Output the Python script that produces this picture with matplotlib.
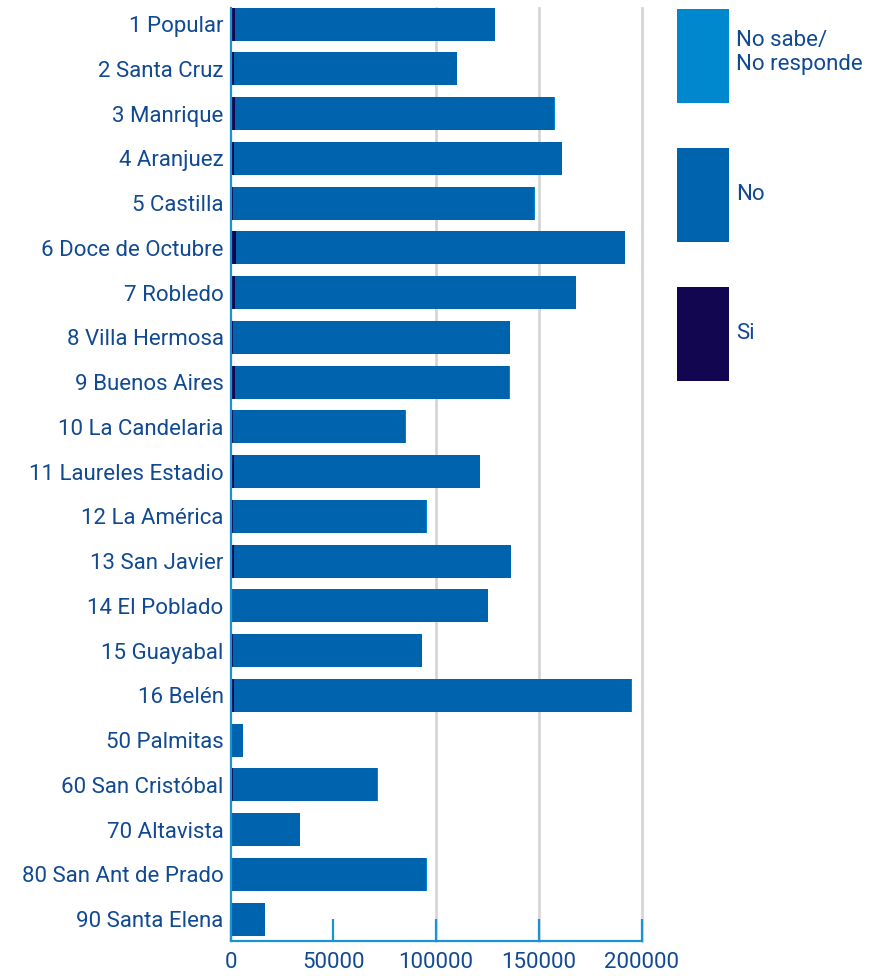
import matplotlib.pyplot as plt
import numpy as np

comunas = [
    "1 Popular", "2 Santa Cruz", "3 Manrique", "4 Aranjuez", "5 Castilla",
    "6 Doce de Octubre", "7 Robledo", "8 Villa Hermosa", "9 Buenos Aires",
    "10 La Candelaria", "11 Laureles Estadio", "12 La América",
    "13 San Javier", "14 El Poblado", "15 Guayabal", "16 Belén",
    "50 Palmitas", "60 San Cristóbal", "70 Altavista",
    "80 San Ant de Prado", "90 Santa Elena",
]
si = [2000, 1500, 2400, 1500, 1000, 2900, 2400, 1300, 2200, 1000, 1700,
      1000, 1500, 800, 1100, 1500, 300, 1100, 500, 800, 500]
no = [126900, 108500, 155000, 159700, 146800, 188900, 165600, 134700,
      133300, 84100, 119700, 94300, 134800, 124500, 92200, 193400, 5700,
      70400, 33200, 94500, 16200]
no_sabe = [0, 0, 500, 200, 500, 200, 200, 200, 500, 100, 200, 100, 400,
           200, 100, 500, 0, 100, 0, 100, 0]
x_ticks = [0, 50000, 100000, 150000, 200000]
grid_vals = [100000, 150000, 200000]

c_si = "#130651"
c_no = "#0063ae"
c_ns = "#0088cf"
c_text = "#114a92"
c_axis = "#1a93d4"
fs = 16

plt.rcParams["font.family"] = ["Roboto", "DejaVu Sans"]

fig = plt.figure(figsize=(8.81, 9.76), dpi=100)
ax = fig.add_axes([230.5 / 881, 35 / 976, 411 / 881, 933 / 976])

y = np.arange(len(comunas))
si = np.array(si)
no = np.array(no)
no_sabe = np.array(no_sabe)
h = 0.74

for g in grid_vals:
    ax.axvline(g, color="#d4d4d4", lw=1.9, zorder=0, clip_on=False)

b1 = ax.barh(y, si, height=h, color=c_si, label="Si", zorder=2)
b2 = ax.barh(y, no, left=si, height=h, color=c_no, label="No", zorder=2)
b3 = ax.barh(y, no_sabe, left=si + no, height=h, color=c_ns,
             label="No sabe/\nNo responde", zorder=2)

ax.set_ylim(len(comunas) - 1 + 0.49, -0.36)
ax.set_xlim(0, 200000)
ax.set_yticks(y)
ax.set_yticklabels(comunas)
ax.set_xticks(x_ticks)
ax.set_xticklabels([str(v) for v in x_ticks])

ax.tick_params(axis="y", length=0, pad=5, labelsize=fs, labelcolor=c_text)
ax.tick_params(axis="x", direction="in", length=16, width=1.6, color=c_axis,
               pad=8, labelsize=fs, labelcolor=c_text)

for s in ["top", "right"]:
    ax.spines[s].set_visible(False)
for s in ["left", "bottom"]:
    ax.spines[s].set_color(c_axis)
    ax.spines[s].set_linewidth(1.6)

# legend boxes ~52x94 px
fs_px = fs * 100 / 72
hh = (94 / fs_px - 0.245) / 0.65
leg = fig.legend(
    [b3, b2, b1], ["No sabe/\nNo responde", "No", "Si"],
    loc="upper left", bbox_to_anchor=(677 / 881, 1 - 9 / 976),
    frameon=False, fontsize=fs, handlelength=52 / fs_px, handleheight=hh,
    handletextpad=7 / fs_px, labelspacing=45 / fs_px, borderpad=0,
    borderaxespad=0,
)
for t in leg.get_texts():
    t.set_color(c_text)

fig.savefig("out.png", dpi=100)
